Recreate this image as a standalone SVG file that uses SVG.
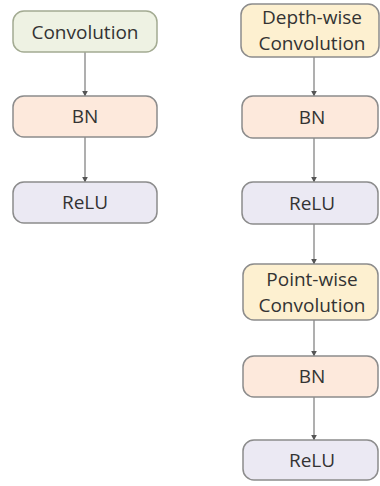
<svg xmlns="http://www.w3.org/2000/svg" width="380" height="486" viewBox="0 0 380 486">
<defs>
<style>
.box{stroke:#8c8c8c;stroke-width:1.5}
.conv{fill:#eef2e3;stroke:#a3ab92}
.bn{fill:#fde9dc}
.relu{fill:#ebe9f3}
.dw{fill:#fdf0d0}
text{font-family:"Open Sans","Liberation Sans",sans-serif;font-size:19px;fill:#333333;text-anchor:middle}
.edge{stroke:#7a7a7a;stroke-width:1.2;fill:none;marker-end:url(#ah)}
</style>
<marker id="ah" viewBox="0 0 10 10" refX="9" refY="5" markerWidth="6" markerHeight="6" orient="auto" markerUnits="userSpaceOnUse">
<path d="M0,0 L10,5 L0,10 z" fill="#555"/>
</marker>
</defs>
<rect width="380" height="486" fill="#ffffff"/>
<g id="connectors">
<line class="edge" x1="85" y1="52" x2="85" y2="96"/>
<line class="edge" x1="85" y1="137" x2="85" y2="182"/>
<line class="edge" x1="314" y1="57" x2="314" y2="96"/>
<line class="edge" x1="314" y1="138" x2="314" y2="182"/>
<line class="edge" x1="314" y1="224" x2="314" y2="264"/>
<line class="edge" x1="314" y1="320" x2="314" y2="356"/>
<line class="edge" x1="314" y1="397" x2="314" y2="440"/>
</g>
<g id="conv">
<rect class="box conv" x="13" y="11" width="144" height="41" rx="11"/>
<text x="85" y="39">Convolution</text>
</g>
<g id="bn1">
<rect class="box bn" x="13" y="96" width="144" height="41" rx="11"/>
<text x="85" y="123">BN</text>
</g>
<g id="relu1">
<rect class="box relu" x="13" y="182" width="144" height="41" rx="11"/>
<text x="85" y="209">ReLU</text>
</g>
<g id="dwconv">
<rect class="box dw" x="241" y="4" width="138" height="53" rx="11"/>
<text x="312" y="24">Depth-wise</text>
<text x="312" y="50">Convolution</text>
</g>
<g id="bn2">
<rect class="box bn" x="242" y="96" width="136" height="42" rx="11"/>
<text x="312" y="124">BN</text>
</g>
<g id="relu2">
<rect class="box relu" x="242" y="182" width="136" height="42" rx="11"/>
<text x="312" y="210">ReLU</text>
</g>
<g id="pwconv">
<rect class="box dw" x="243" y="264" width="135" height="56" rx="11"/>
<text x="312" y="286">Point-wise</text>
<text x="312" y="312">Convolution</text>
</g>
<g id="bn3">
<rect class="box bn" x="243" y="356" width="135" height="41" rx="11"/>
<text x="312" y="383">BN</text>
</g>
<g id="relu3">
<rect class="box relu" x="243" y="440" width="135" height="40" rx="11"/>
<text x="312" y="467">ReLU</text>
</g>
</svg>
